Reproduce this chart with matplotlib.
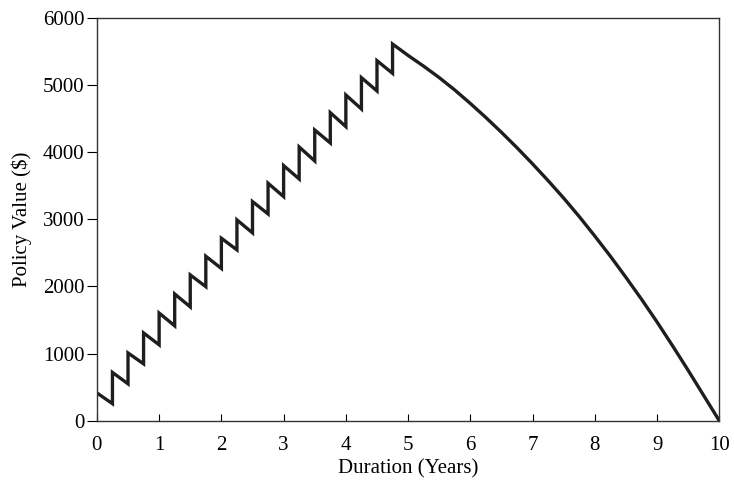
import numpy as np
import matplotlib.pyplot as plt

plt.rcParams['font.family'] = ['Liberation Serif', 'DejaVu Serif']

# premium dates (quarterly) for the first 5 years
quarters = np.arange(0, 5.0, 0.25)
# value just after each premium
peaks = [415, 720, 1010, 1308, 1604, 1888, 2172, 2450, 2718, 2991,
         3264, 3537, 3800, 4077, 4330, 4588, 4851, 5109, 5362, 5610]
# value just before the next premium
bottoms = [255, 550, 848, 1131, 1414, 1696, 1997, 2268, 2545, 2798,
           3080, 3338, 3601, 3869, 4137, 4380, 4643, 4911, 5174]

# no more premiums after 4.75 years
decay_t = [5.0, 5.25, 5.5, 5.75, 6.0, 6.25, 6.5, 6.75, 7.0, 7.25, 7.5,
           7.75, 8.0, 8.25, 8.5, 8.75, 9.0, 9.25, 9.5, 9.75, 10.0]
decay_v = [5440, 5280, 5110, 4925, 4725, 4515, 4295, 4065, 3825, 3575, 3315,
           3040, 2750, 2450, 2135, 1810, 1470, 1115, 750, 375, 0]

xs, ys = [], []
for i in range(len(quarters)):
    xs.append(quarters[i])
    ys.append(peaks[i])
    if i < len(bottoms):
        xs.append(quarters[i + 1])
        ys.append(bottoms[i])
xs += decay_t
ys += decay_v

fig = plt.figure(figsize=(7.34, 4.82), dpi=100)
ax = fig.add_axes([0.132, 0.127, 0.848, 0.836])
ax.plot(xs, ys, color='#1e1e1e', lw=2.4, solid_joinstyle='miter')

ax.set_xlim(0, 10)
ax.set_ylim(0, 6000)
ax.set_xticks(range(0, 11))
ax.set_yticks(range(0, 6001, 1000))
ax.tick_params(axis='x', direction='in', length=5, labelsize=15, pad=11)
ax.tick_params(axis='y', direction='out', length=7, labelsize=15, pad=2)
for s in ax.spines.values():
    s.set_linewidth(1.0)
    s.set_color('#333333')

ax.set_xlabel("Duration (Years)", fontsize=15, labelpad=3)
ax.set_ylabel("Policy Value ($)", fontsize=15, labelpad=8)

fig.savefig("out.png", dpi=100)
